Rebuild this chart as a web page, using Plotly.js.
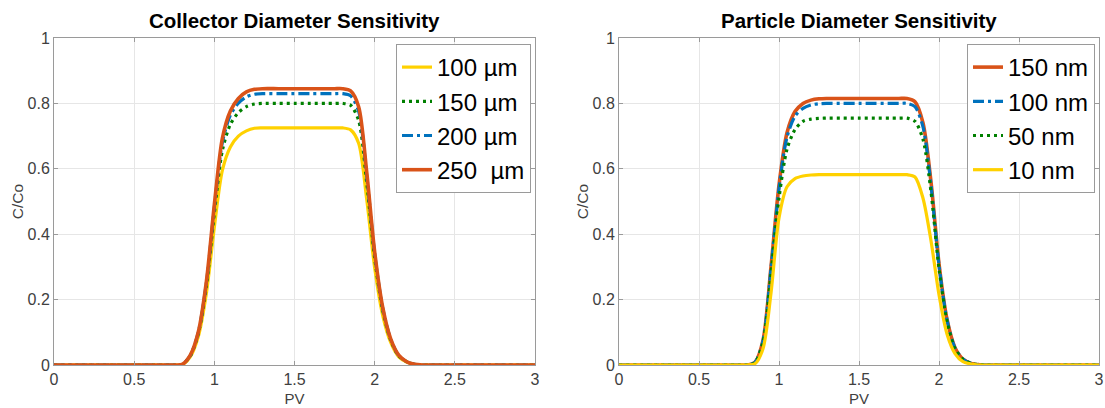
<!DOCTYPE html>
<html>
<head>
<meta charset="utf-8">
<script src="https://cdn.plot.ly/plotly-3.0.1.min.js"></script>
<style>
  html, body { margin: 0; padding: 0; background: #fff; }
  #chart { width: 1105px; height: 408px; }
</style>
</head>
<body>
<div id="chart"></div>
<script>
// ---- Data ----
const PV = [0, 0.5, 0.75, 0.80, 0.85, 0.90, 0.95, 1.00, 1.05, 1.10, 1.15, 1.20, 1.25, 1.30, 1.40, 1.50, 1.60, 1.70, 1.75, 1.80, 1.85, 1.90, 1.95, 2.00, 2.05, 2.10, 2.15, 2.20, 2.25, 2.30, 2.50, 3.00];

// Collector Diameter Sensitivity
const collectorLabels = ["100 µm", "150 µm", "200 µm", "250\u00a0 µm"];
const col100 = [0,0,0,0.001,0.025,0.087,0.218,0.421,0.595,0.667,0.700,0.716,0.724,0.725,0.725,0.725,0.725,0.725,0.725,0.725,0.719,0.678,0.508,0.297,0.152,0.069,0.025,0.009,0.001,0,0,0];
const col150 = [0,0,0,0.002,0.028,0.096,0.240,0.464,0.656,0.736,0.772,0.790,0.798,0.800,0.800,0.800,0.800,0.800,0.800,0.800,0.794,0.748,0.560,0.328,0.168,0.076,0.028,0.010,0.002,0,0,0];
const col200 = [0,0,0,0.002,0.029,0.100,0.249,0.481,0.681,0.764,0.801,0.820,0.828,0.830,0.830,0.830,0.830,0.830,0.830,0.830,0.823,0.776,0.581,0.340,0.174,0.079,0.029,0.010,0.002,0,0,0];
const col250 = [0,0,0,0.002,0.030,0.101,0.254,0.490,0.693,0.777,0.815,0.835,0.843,0.845,0.845,0.845,0.845,0.845,0.845,0.845,0.838,0.790,0.592,0.346,0.177,0.080,0.030,0.010,0.002,0,0,0];

// Particle Diameter Sensitivity
const particleLabels = ["150 nm", "100 nm", "50 nm", "10 nm"];
const par150 = [0,0,0,0,0.008,0.075,0.300,0.550,0.710,0.775,0.800,0.810,0.814,0.815,0.815,0.815,0.815,0.815,0.815,0.815,0.805,0.740,0.560,0.310,0.140,0.053,0.018,0.005,0.001,0,0,0];
const par100 = [0,0,0,0,0.008,0.074,0.295,0.540,0.697,0.761,0.785,0.795,0.799,0.800,0.800,0.800,0.800,0.800,0.800,0.800,0.790,0.728,0.550,0.305,0.138,0.052,0.018,0.005,0.001,0,0,0];
const par50  = [0,0,0,0,0.007,0.070,0.280,0.510,0.660,0.720,0.745,0.752,0.754,0.755,0.755,0.755,0.755,0.755,0.755,0.755,0.745,0.690,0.530,0.295,0.133,0.050,0.017,0.005,0.001,0,0,0];
const par10  = [0,0,0,0,0.004,0.050,0.220,0.450,0.545,0.570,0.578,0.581,0.582,0.582,0.582,0.582,0.582,0.582,0.582,0.582,0.575,0.510,0.380,0.215,0.095,0.035,0.010,0.003,0,0,0,0];

const xTicks = [0, 0.5, 1, 1.5, 2, 2.5, 3];
const yTicks = [0, 0.2, 0.4, 0.6, 0.8, 1];
const titles = ["Collector Diameter Sensitivity", "Particle Diameter Sensitivity"];

// ---- Styles ----
const YELLOW = "#FFD100", GREEN = "#008000", BLUE = "#0072BD", ORANGE = "#D95319";
const FONT = "Liberation Sans, Arial, Helvetica, sans-serif";
const DOT = "3px,4px";
const DASHDOT = "11px,4px,3px,4px";

function tr(y, name, color, dash, xa, ya, leg, w) {
  return {
    x: PV, y: y, name: name, type: "scatter", mode: "lines",
    line: { color: color, width: w || 3.2, dash: dash, shape: "spline", smoothing: 0.8 },
    xaxis: xa, yaxis: ya, legend: leg, hoverinfo: "skip"
  };
}

const data = [
  tr(col100, collectorLabels[0], YELLOW, "solid", "x", "y", "legend"),
  tr(col150, collectorLabels[1], GREEN, DOT, "x", "y", "legend"),
  tr(col200, collectorLabels[2], BLUE, DASHDOT, "x", "y", "legend"),
  tr(col250, collectorLabels[3], ORANGE, "solid", "x", "y", "legend", 3.6),
  tr(par150, particleLabels[0], ORANGE, "solid", "x2", "y2", "legend2", 3.6),
  tr(par100, particleLabels[1], BLUE, DASHDOT, "x2", "y2", "legend2"),
  tr(par50,  particleLabels[2], GREEN, DOT, "x2", "y2", "legend2"),
  tr(par10,  particleLabels[3], YELLOW, "solid", "x2", "y2", "legend2")
];

const AXC = "#9a9a9a", GRID = "#e6e6e6", TICKC = "#404040";
function xaxis(domain, anchor) {
  return {
    domain: domain, anchor: anchor, range: [0, 3], tickvals: xTicks, ticktext: xTicks.map(String),
    showgrid: true, gridcolor: GRID, gridwidth: 1, zeroline: false,
    showline: true, linecolor: AXC, linewidth: 1, mirror: "ticks",
    ticks: "inside", ticklen: 4, tickcolor: AXC,
    tickfont: { family: FONT, size: 16, color: TICKC },
    title: { text: "PV", font: { family: FONT, size: 15, color: TICKC }, standoff: 6 },
    fixedrange: true
  };
}
function yaxis(domain, anchor) {
  return {
    domain: domain, anchor: anchor, range: [0, 1], tickvals: yTicks, ticktext: yTicks.map(String),
    showgrid: true, gridcolor: GRID, gridwidth: 1, zeroline: false,
    showline: true, linecolor: AXC, linewidth: 1, mirror: "ticks",
    ticks: "inside", ticklen: 4, tickcolor: AXC,
    tickfont: { family: FONT, size: 16, color: TICKC },
    title: { text: "C/Co", font: { family: FONT, size: 15.5, color: TICKC }, standoff: 0 },
    fixedrange: true
  };
}

const yDom = [1 - 365 / 408, 1 - 38 / 408];
const legendBase = {
  yanchor: "top", xanchor: "left", y: 1 - 44 / 408,
  bgcolor: "#ffffff", bordercolor: "#9a9a9a", borderwidth: 1,
  font: { family: FONT, size: 24, color: "#000" },
  itemwidth: 30, tracegroupgap: 0, traceorder: "normal"
};

const layout = {
  width: 1105, height: 408,
  margin: { l: 0, r: 0, t: 0, b: 0 },
  paper_bgcolor: "#fff", plot_bgcolor: "#fff",
  showlegend: true,
  font: { family: FONT },
  xaxis: xaxis([54 / 1105, 535 / 1105], "y"),
  yaxis: yaxis(yDom, "x"),
  xaxis2: xaxis([619 / 1105, 1099 / 1105], "y2"),
  yaxis2: yaxis(yDom, "x2"),
  legend: Object.assign({}, legendBase, { x: 396 / 1105 }),
  legend2: Object.assign({}, legendBase, { x: 967 / 1105 }),
  annotations: [
    { text: "<b>" + titles[0] + "</b>", xref: "paper", yref: "paper", x: (54 + 535) / 2 / 1105, y: 1 - 20 / 408,
      xanchor: "center", yanchor: "middle", showarrow: false, font: { family: FONT, size: 20.5, color: "#000" } },
    { text: "<b>" + titles[1] + "</b>", xref: "paper", yref: "paper", x: (619 + 1099) / 2 / 1105, y: 1 - 20 / 408,
      xanchor: "center", yanchor: "middle", showarrow: false, font: { family: FONT, size: 20.5, color: "#000" } }
  ]
};

Plotly.newPlot("chart", data, layout, { staticPlot: true, displayModeBar: false });
</script>
</body>
</html>
